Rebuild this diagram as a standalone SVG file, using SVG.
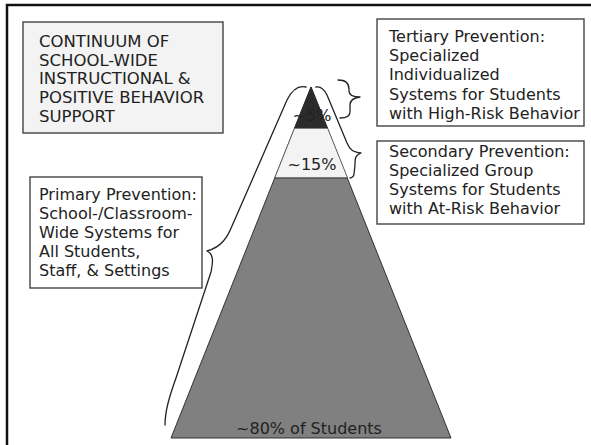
<svg xmlns="http://www.w3.org/2000/svg" width="591" height="445" viewBox="0 0 591 445">
<style>
text{font-family:"DejaVu Sans","Verdana",sans-serif;font-size:16px;fill:#222}
.ttl{font-size:16.5px}
.box{fill:#fff;stroke:#444;stroke-width:1.4}
.brace{fill:none;stroke:#222;stroke-width:1.3;stroke-linecap:round;stroke-linejoin:round}
.mid{text-anchor:middle}
</style>
<rect x="0" y="0" width="591" height="445" fill="#fff"/>
<rect x="7" y="5" width="620" height="480" fill="none" stroke="#111" stroke-width="2.5"/>

<g id="pyramid">
<polygon points="311,87 171,438 451,438" fill="#808080" stroke="#333" stroke-width="1"/>
<polygon points="294.6,128 327.5,128 347.6,178 274.7,178" fill="#f3f3f3" stroke="#555" stroke-width="0.8"/>
<polygon points="311,87 327.5,128 294.6,128" fill="#2b2b2b" stroke="#2b2b2b" stroke-width="0.8"/>
<line x1="274.7" y1="178" x2="347.6" y2="178" stroke="#444" stroke-width="1"/>
<text class="mid" x="312" y="121">~5%</text>
<text class="mid" x="312" y="170">~15%</text>
<text class="mid" x="309" y="434">~80% of Students</text>
</g>

<g id="title">
<rect x="23" y="22" width="200" height="111" fill="#f3f3f3" stroke="#444" stroke-width="1.4"/>
<text class="ttl" x="39" y="47">CONTINUUM OF</text>
<text class="ttl" x="39" y="65.7">SCHOOL-WIDE</text>
<text class="ttl" x="39" y="84.4">INSTRUCTIONAL &amp;</text>
<text class="ttl" x="39" y="103">POSITIVE BEHAVIOR</text>
<text class="ttl" x="39" y="121.7">SUPPORT</text>
</g>

<g id="tertiary">
<rect class="box" x="377" y="19" width="207" height="107"/>
<text x="389" y="41.7">Tertiary Prevention:</text>
<text x="389" y="61">Specialized</text>
<text x="389" y="80.3">Individualized</text>
<text x="389" y="99.6">Systems for Students</text>
<text x="389" y="119">with High-Risk Behavior</text>
</g>

<g id="secondary">
<rect class="box" x="377" y="141" width="207" height="83"/>
<text x="389" y="157">Secondary Prevention:</text>
<text x="389" y="176">Specialized Group</text>
<text x="389" y="195">Systems for Students</text>
<text x="389" y="214">with At-Risk Behavior</text>
</g>

<g id="primary">
<rect class="box" x="30" y="177" width="172" height="111"/>
<text x="39" y="199.5">Primary Prevention:</text>
<text x="39" y="218.7">School-/Classroom-</text>
<text x="39" y="237.9">Wide Systems for</text>
<text x="39" y="257.1">All Students,</text>
<text x="39" y="276.3">Staff, &amp; Settings</text>
</g>

<g id="connectors">
<path class="brace" d="M306,87 C298,85 292,90 287,100 L232,226 C228,236 222,247 207,251 C214,254 213,262 211,272 L176,378 C170,395 165,410 165,425"/>
<path class="brace" d="M316,87 C321,86 324,89 327,95 L347,143 C350,150 353,152 361,153 C355,155 355,159 355,165 L354,174 C354,176 352,178 350,178"/>
<path class="brace" d="M338,80 C346,80 349,83 349,89 L349,91 C349,95 352,97 360,97 C352,98 350,101 350,105 L350,112 C350,116 347,118 340,118"/>
</g>
</svg>
